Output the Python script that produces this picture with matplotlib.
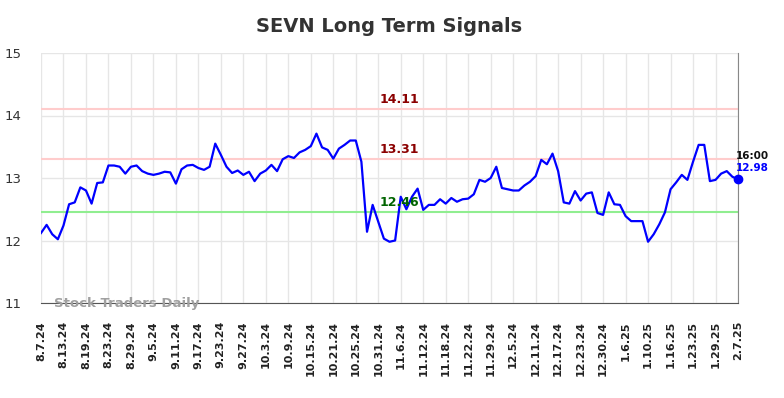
import numpy as np
import matplotlib
matplotlib.use("Agg")
import matplotlib.pyplot as plt
import matplotlib.transforms as mtransforms

# -------------------------------------------------------------------------
# Data (one value per trading day)
# -------------------------------------------------------------------------
prices = [
    12.12, 12.25, 12.10, 12.02, 12.24, 12.58, 12.61, 12.85, 12.80, 12.59,
    12.92, 12.93, 13.20, 13.20, 13.18, 13.07, 13.18, 13.20, 13.11, 13.07,
    13.05, 13.07, 13.10, 13.09, 12.91, 13.14, 13.20, 13.21, 13.16, 13.13,
    13.18, 13.55, 13.37, 13.18, 13.08, 13.12, 13.05, 13.10, 12.95, 13.07,
    13.12, 13.21, 13.11, 13.30, 13.35, 13.32, 13.41, 13.45, 13.51, 13.71,
    13.49, 13.45, 13.31, 13.47, 13.53, 13.60, 13.60, 13.26, 12.14, 12.57,
    12.30, 12.03, 11.98, 12.00, 12.70, 12.50, 12.70, 12.83, 12.49, 12.57,
    12.57, 12.66, 12.59, 12.68, 12.62, 12.66, 12.67, 12.74, 12.97, 12.94,
    13.00, 13.18, 12.84, 12.82, 12.80, 12.80, 12.88, 12.94, 13.03, 13.29,
    13.22, 13.39, 13.11, 12.61, 12.59, 12.79, 12.64, 12.75, 12.77, 12.44,
    12.41, 12.77, 12.58, 12.57, 12.39, 12.31, 12.31, 12.31, 11.98, 12.10,
    12.26, 12.45, 12.82, 12.93, 13.05, 12.97, 13.26, 13.53, 13.53, 12.95,
    12.97, 13.07, 13.11, 13.02, 12.98,
]

tick_labels = [
    "8.7.24", "8.13.24", "8.19.24", "8.23.24", "8.29.24", "9.5.24",
    "9.11.24", "9.17.24", "9.23.24", "9.27.24", "10.3.24", "10.9.24",
    "10.15.24", "10.21.24", "10.25.24", "10.31.24", "11.6.24", "11.12.24",
    "11.18.24", "11.22.24", "11.29.24", "12.5.24", "12.11.24", "12.17.24",
    "12.23.24", "12.30.24", "1.6.25", "1.10.25", "1.16.25", "1.23.25",
    "1.29.25", "2.7.25",
]
days_per_tick = 4

resistance_levels = [14.11, 13.31]
support_levels = [12.46]
last_time = "16:00"

# -------------------------------------------------------------------------
# Plot
# -------------------------------------------------------------------------
x = np.arange(len(prices))

fig = plt.figure(figsize=(7.84, 3.98), dpi=100)
ax = fig.add_axes([41 / 784, 1 - 303 / 398, 697 / 784, 250 / 398])

ax.set_xlim(0, len(prices) - 1)
ax.set_ylim(11, 15)

ax.set_xticks(x[::days_per_tick])
ax.set_xticklabels(tick_labels, rotation=90, fontsize=8, fontweight="bold",
                   color="#222222")
ax.set_yticks([11, 12, 13, 14, 15])
ax.tick_params(axis="x", length=0, pad=13)
ax.tick_params(axis="y", length=0, pad=14, labelsize=9.5, labelcolor="#333333")

ax.grid(True, color="#e6e6e6", linewidth=1)
ax.set_axisbelow(True)
for side in ["top", "left"]:
    ax.spines[side].set_visible(False)
ax.spines["bottom"].set_color("#555555")
ax.spines["right"].set_color("#888888")

label_tr = mtransforms.blended_transform_factory(ax.transAxes, ax.transData)
for lvl in resistance_levels:
    ax.axhline(lvl, color="#ffcccc", linewidth=1.5, zorder=1)
    ax.text(0.486, lvl + 0.04, f"{lvl:.2f}", transform=label_tr, fontsize=9,
            fontweight="bold", color="#8b0000", va="bottom", ha="left")
for lvl in support_levels:
    ax.axhline(lvl, color="#90ee90", linewidth=1.5, zorder=1)
    ax.text(0.486, lvl + 0.04, f"{lvl:.2f}", transform=label_tr, fontsize=9,
            fontweight="bold", color="#006400", va="bottom", ha="left", zorder=4)

ax.plot(x, prices, color="#0000ff", linewidth=1.6, zorder=3)
ax.plot(x[-1], prices[-1], "o", color="#0000ff", markersize=6, zorder=5,
        clip_on=False)

ax.annotate(last_time, (x[-1], prices[-1]), xytext=(-2, 23),
            textcoords="offset pixels", fontsize=7.5, fontweight="bold",
            color="#111111", ha="left", va="center", annotation_clip=False)
ax.annotate(f"{prices[-1]:.2f}", (x[-1], prices[-1]), xytext=(-2, 11),
            textcoords="offset pixels", fontsize=7.5, fontweight="bold",
            color="#0000ff", ha="left", va="center", annotation_clip=False)

ax.text(0.018, 0.0, "Stock Traders Daily", transform=ax.transAxes, fontsize=9.5,
        fontweight="bold", color="#a0a0a0", ha="left", va="center", zorder=6)

fig.text((41 + 738) / 2 / 784, 1 - 26 / 398, "SEVN Long Term Signals",
         fontsize=14, fontweight="bold", color="#333333", ha="center",
         va="center")

fig.savefig("out.png", dpi=100)
